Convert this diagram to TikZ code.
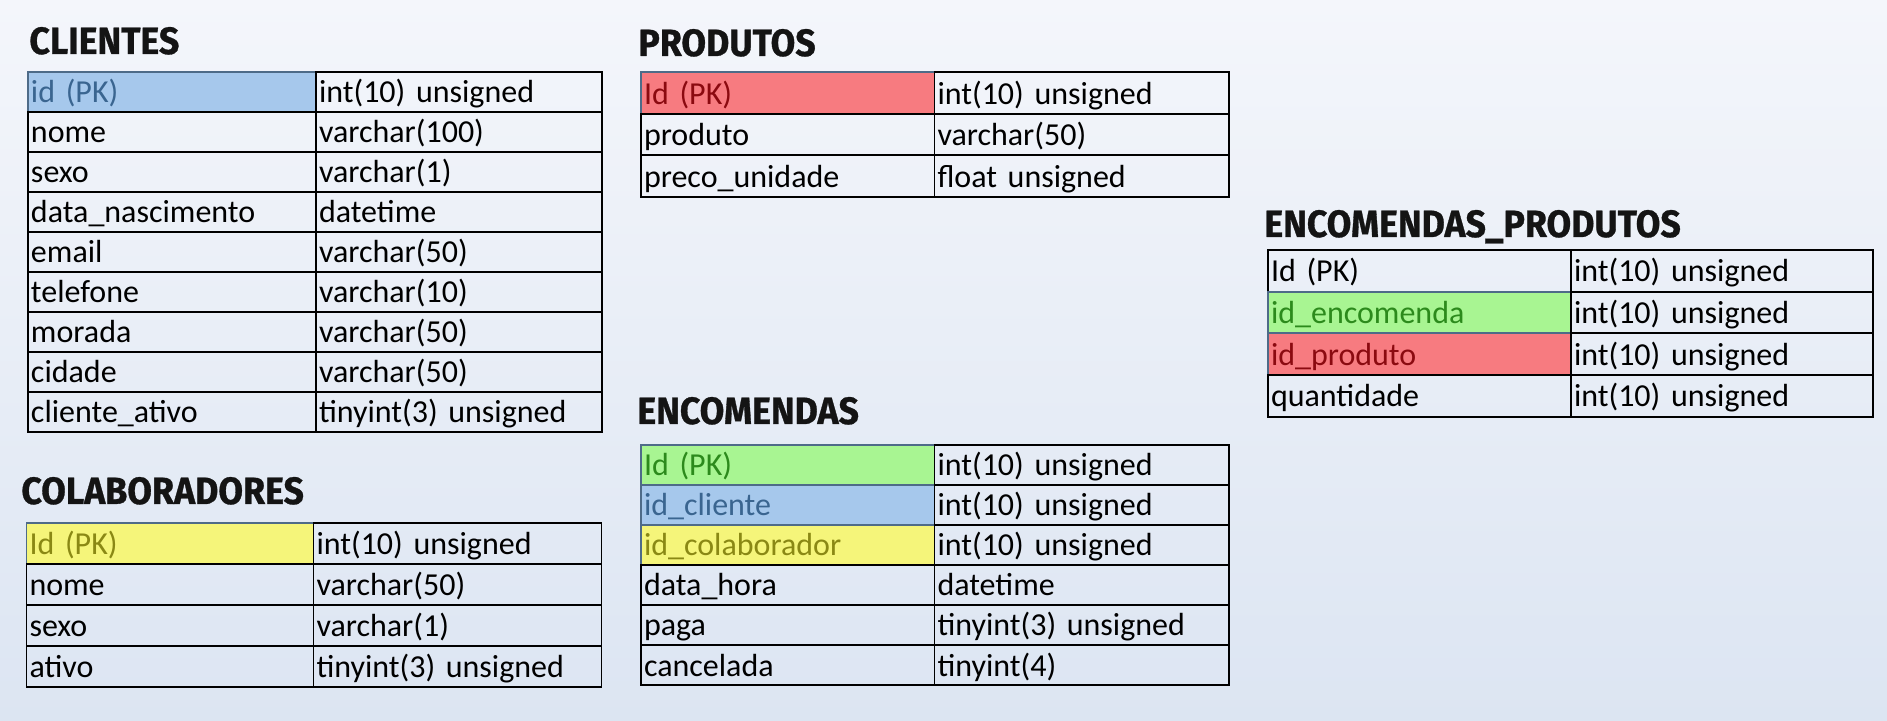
\documentclass[tikz,border=0pt]{standalone}
\usepackage{fontspec}
\setmainfont[WordSpace=0.8]{Carlito}
\newfontfamily\titlefont[FakeStretch=0.94,BoldFeatures={FakeBold=0.8}]{Fira Sans}
\usepackage{xcolor}
\usepackage{tikz}
\usetikzlibrary{positioning}

\definecolor{bgtop}{HTML}{F4F6FB}
\definecolor{bgbot}{HTML}{DCE5F2}
\definecolor{hlborder}{HTML}{4E6B88}
\definecolor{fillblue}{HTML}{A6C8EC}
\definecolor{txtblue}{HTML}{3A6590}
\definecolor{fillred}{HTML}{F77B80}
\definecolor{txtred}{HTML}{8B0A10}
\definecolor{fillgreen}{HTML}{A8F592}
\definecolor{txtgreen}{HTML}{2C8A1C}
\definecolor{fillyellow}{HTML}{F5F57A}
\definecolor{txtyellow}{HTML}{8A8814}
\definecolor{titleblack}{HTML}{141414}

\begin{document}
\begin{tikzpicture}[x=0.5pt,y=-0.5pt,
      cell_st/.style={
         rectangle,
         draw=black,
         line width=0.9pt,
         inner xsep=1.5pt,
         inner ysep=0pt,
         outer sep=0pt,
         text height=12pt,
         text depth=1pt,
         align=left,
         anchor=north west,
         font=\fontsize{16}{18}\selectfont},
      title_st/.style={
         anchor=base west,
         inner sep=0pt,
         text=titleblack,
         font=\titlefont\bfseries\fontsize{19}{21}\selectfont},
      plain/.style={},
      hl_blue/.style={fill=fillblue,draw=hlborder,text=txtblue},
      hl_red/.style={fill=fillred,draw=hlborder,text=txtred},
      hl_green/.style={fill=fillgreen,draw=hlborder,text=txtgreen},
      hl_yellow/.style={fill=fillyellow,draw=hlborder,text=txtyellow}
]
      %background
      \fill[top color=bgtop,bottom color=bgbot] (0,0) rectangle (1887,721);

      %clientes
      \node[title_st] (cli_title) at (29,54) {CLIENTES};
    \foreach \nm/\tp/\hl [count=\r from 0] in {% field/type/highlight
      id (PK)/int(10) unsigned/hl_blue,
      nome/varchar(100)/plain,
      sexo/varchar(1)/plain,
      data\_nascimento/datetime/plain,
      email/varchar(50)/plain,
      telefone/varchar(10)/plain,
      morada/varchar(50)/plain,
      cidade/varchar(50)/plain,
      cliente\_ativo/tinyint(3) unsigned/plain}
    {
      \node[cell_st,\hl,text width=141pt,minimum height=20pt] (cli-\r-a) at (28,72+40*\r) {\nm};
      \node[cell_st,text width=140pt,minimum height=20pt,right=0pt of cli-\r-a] (cli-\r-b) {\tp};
    }

      %colaboradores
      \node[title_st] (col_title) at (21,504) {COLABORADORES};
    \foreach \nm/\tp/\hl [count=\r from 0] in {% field/type/highlight
      Id (PK)/int(10) unsigned/hl_yellow,
      nome/varchar(50)/plain,
      sexo/varchar(1)/plain,
      ativo/tinyint(3) unsigned/plain}
    {
      \node[cell_st,\hl,text width=140.5pt,minimum height=20.5pt] (col-\r-a) at (26.5,522.7+41*\r) {\nm};
      \node[cell_st,text width=141pt,minimum height=20.5pt,right=0pt of col-\r-a] (col-\r-b) {\tp};
    }

      %produtos
      \node[title_st] (pro_title) at (638,56) {PRODUTOS};
    \foreach \nm/\tp/\hl [count=\r from 0] in {% field/type/highlight
      Id (PK)/int(10) unsigned/hl_red,
      produto/varchar(50)/plain,
      preco\_unidade/float unsigned/plain}
    {
      \node[cell_st,\hl,text width=143.75pt,minimum height=20.75pt] (pro-\r-a) at (641,72.3+41.5*\r) {\nm};
      \node[cell_st,text width=144.25pt,minimum height=20.75pt,right=0pt of pro-\r-a] (pro-\r-b) {\tp};
    }

      %encomendas
      \node[title_st] (enc_title) at (637,424) {ENCOMENDAS};
    \foreach \nm/\tp/\hl [count=\r from 0] in {% field/type/highlight
      Id (PK)/int(10) unsigned/hl_green,
      id\_cliente/int(10) unsigned/hl_blue,
      id\_colaborador/int(10) unsigned/hl_yellow,
      data\_hora/datetime/plain,
      paga/tinyint(3) unsigned/plain,
      cancelada/tinyint(4)/plain}
    {
      \node[cell_st,\hl,text width=143.75pt,minimum height=20pt] (enc-\r-a) at (641,445+40*\r) {\nm};
      \node[cell_st,text width=144.25pt,minimum height=20pt,right=0pt of enc-\r-a] (enc-\r-b) {\tp};
    }

      %encomendas_produtos
      \node[title_st] (ep_title) at (1264,237) {ENCOMENDAS\_PRODUTOS};
    \foreach \nm/\tp/\hl [count=\r from 0] in {% field/type/highlight
      Id (PK)/int(10) unsigned/plain,
      id\_encomenda/int(10) unsigned/hl_green,
      id\_produto/int(10) unsigned/hl_red,
      quantidade/int(10) unsigned/plain}
    {
      \node[cell_st,\hl,text width=148.5pt,minimum height=20.85pt] (ep-\r-a) at (1268,250+41.7*\r) {\nm};
      \node[cell_st,text width=148pt,minimum height=20.85pt,right=0pt of ep-\r-a] (ep-\r-b) {\tp};
    }

\end{tikzpicture}
\end{document}
